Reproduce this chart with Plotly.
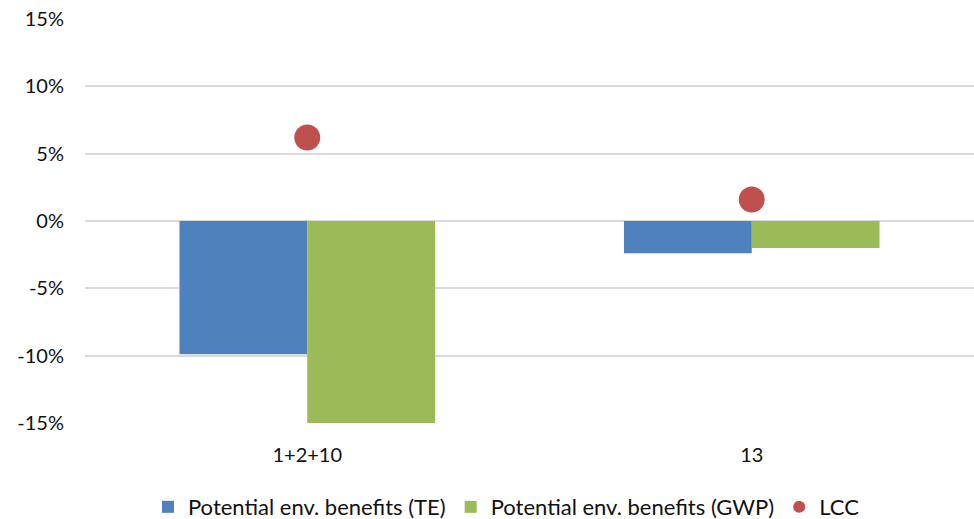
import plotly.graph_objects as go

categories = ["1+2+10", "13"]
te_benefits = [-9.9, -2.4]
gwp_benefits = [-15.0, -2.0]
lcc = [6.2, 1.6]
y_ticks = [-15, -10, -5, 0, 5, 10, 15]
y_tick_labels = ["-15%", "-10%", "-5%", "0%", "5%", "10%", "15%"]

font_family = "Lato, Calibri, sans-serif"

fig = go.Figure()
fig.add_trace(go.Bar(
    x=categories, y=te_benefits, name="Potential env. benefits (TE)",
    marker=dict(color="#4F81BD", line=dict(width=0)),
))
fig.add_trace(go.Bar(
    x=categories, y=gwp_benefits, name="Potential env. benefits (GWP)",
    marker=dict(color="#9BBB59", line=dict(width=0)),
))
fig.add_trace(go.Scatter(
    x=categories, y=lcc, name="LCC", mode="markers",
    marker=dict(color="#C0504D", size=26, line=dict(width=0)),
))

fig.update_layout(
    width=974, height=519,
    margin=dict(l=85, r=0, t=19, b=96, autoexpand=False),
    paper_bgcolor="white", plot_bgcolor="white",
    barmode="group", bargap=0.425, bargroupgap=0,
    font=dict(family=font_family, size=20, color="#111111"),
    showlegend=True,
    legend=dict(
        orientation="h", xref="container", yref="paper",
        x=0.52, xanchor="center", y=-0.208, yanchor="middle",
        font=dict(size=22), itemsizing="constant",
        traceorder="normal", itemwidth=30,
    ),
    xaxis=dict(
        type="category", showgrid=False, zeroline=False, showline=False,
        ticks="", ticklabelstandoff=18,
    ),
    yaxis=dict(
        range=[-15, 15], tickvals=y_ticks, ticktext=y_tick_labels,
        showgrid=True, gridcolor="#D9D9D9", gridwidth=1.5,
        zeroline=True, zerolinecolor="#D9D9D9", zerolinewidth=1.5,
        showline=False, ticks="", ticklabelstandoff=20,
    ),
)

fig.write_html("out.html")
